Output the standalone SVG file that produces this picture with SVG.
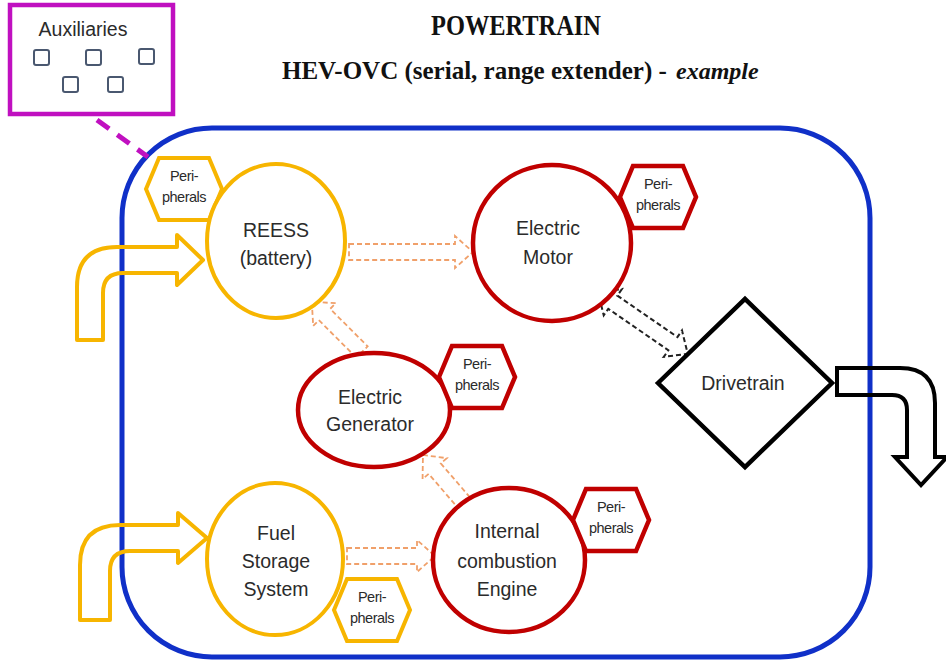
<svg xmlns="http://www.w3.org/2000/svg" xmlns:xlink="http://www.w3.org/1999/xlink" width="946" height="663" viewBox="0 0 946 663">
<style>
  .lbl { font-family: "Liberation Sans", Arial, sans-serif; font-size: 19.5px; fill: #2b2b2b; text-anchor: middle; }
  .per { font-family: "Liberation Sans", Arial, sans-serif; font-size: 14.5px; fill: #2b2b2b; text-anchor: middle; letter-spacing: -0.5px; }
  .ttl { font-family: "Liberation Serif", "Times New Roman", serif; font-weight: bold; fill: #111; }
  .yel { fill: #fff; stroke: #F7B500; stroke-width: 4; }
  .red { fill: #fff; stroke: #C00000; stroke-width: 4.5; }
  .hy { fill: #fff; stroke: #F7B500; stroke-width: 4; stroke-linejoin: miter; }
  .hr { fill: #fff; stroke: #C00000; stroke-width: 4.5; stroke-linejoin: miter; }
  .flow { fill: none; stroke: #F7B500; stroke-width: 4; stroke-linejoin: round; }
  .odash { fill: #fff; stroke: #F0A06A; stroke-width: 1.8; stroke-dasharray: 5 3; }
  .kdash { fill: #fff; stroke: #222; stroke-width: 2; stroke-dasharray: 5 3; }
  .sq { fill: #fff; stroke: #4a5870; stroke-width: 2; }
</style>
<defs>
  <polygon id="hex" points="-38,0 -25,-31 25,-31 38,0 25,31 -25,31"/>
</defs>
<rect width="946" height="663" fill="#fff"/>

<g id="title">
  <text class="ttl" x="431" y="35" font-size="30" textLength="170" lengthAdjust="spacingAndGlyphs">POWERTRAIN</text>
  <text class="ttl" x="282" y="79" font-size="25">HEV-OVC (serial, range extender) -</text>
  <text class="ttl" x="676" y="79" font-size="24" font-style="italic">example</text>
</g>

<g id="powertrain-frame">
  <rect x="122" y="128" width="748" height="529" rx="90" ry="90" fill="none" stroke="#1030C8" stroke-width="5"/>
</g>

<g id="auxiliaries">
  <rect x="10" y="5" width="163" height="109" fill="#fff" stroke="#C010C0" stroke-width="4.5"/>
  <text class="lbl" x="83" y="36" font-size="18">Auxiliaries</text>
  <rect class="sq" x="34" y="50" width="15" height="15" rx="2"/>
  <rect class="sq" x="86" y="50" width="15" height="15" rx="2"/>
  <rect class="sq" x="139" y="49" width="15" height="15" rx="2"/>
  <rect class="sq" x="63" y="77" width="15" height="15" rx="2"/>
  <rect class="sq" x="108" y="77" width="15" height="15" rx="2"/>
</g>

<g id="connectors">
  <line x1="97" y1="120" x2="148" y2="157" stroke="#C010C0" stroke-width="5" stroke-dasharray="15 10"/>
  <!-- energy inflows -->
  <path class="flow" d="M77,340 L77,287 Q77,247 117,247 L177,247 L177,235 L203,260 L177,285 L177,273 L123,273 Q103,273 103,293 L103,340 Z"/>
  <path class="flow" d="M80,620 L80,565 Q80,525 120,525 L178,525 L178,513 L207,538 L178,563 L178,551 L130,551 Q110,551 110,571 L110,620 Z"/>
  <!-- output -->
  <path d="M837,368 L900,368 Q935,368 935,403 L935,457 L947,457 L921,485 L895,457 L907,457 L907,410 Q907,395 892,395 L837,395 Z" fill="none" stroke="#000" stroke-width="4" stroke-linejoin="miter"/>
  <!-- REESS -> Motor -->
  <path class="odash" transform="translate(349,252)" d="M0,-8 L106,-8 L106,-16 L124,0 L106,16 L106,8 L0,8 Z"/>
  <!-- Generator -> REESS -->
  <path class="odash" transform="translate(362,352) rotate(-135)" d="M0,-8 L53,-8 L53,-16 L71,0 L53,16 L53,8 L0,8 Z"/>
  <!-- ICE -> Generator -->
  <path class="odash" transform="translate(466,505) rotate(-130.7)" d="M0,-8 L48,-8 L48,-16 L66,0 L48,16 L48,8 L0,8 Z"/>
  <!-- Fuel -> ICE -->
  <path class="odash" transform="translate(347,556)" d="M0,-8 L70,-8 L70,-16 L88,0 L70,16 L70,8 L0,8 Z"/>
  <!-- Motor <-> Drivetrain -->
  <path class="kdash" transform="translate(598,292) rotate(34.6)" d="M0,0 L18,-16 L18,-8 L91,-8 L91,-16 L109,0 L91,16 L91,8 L18,8 L18,16 Z"/>
</g>

<g id="reess">
  <use href="#hex" class="hy" x="184" y="189"/>
  <text class="per" x="184" y="181">Peri-</text>
  <text class="per" x="184" y="202">pherals</text>
  <ellipse class="yel" cx="276" cy="241" rx="69" ry="77"/>
  <text class="lbl" x="276" y="237">REESS</text>
  <text class="lbl" x="276" y="265">(battery)</text>
</g>

<g id="electric-motor">
  <ellipse class="red" cx="552" cy="243" rx="79" ry="78"/>
  <use href="#hex" class="hr" x="658" y="197"/>
  <text class="per" x="658" y="189">Peri-</text>
  <text class="per" x="658" y="210">pherals</text>
  <text class="lbl" x="548" y="235">Electric</text>
  <text class="lbl" x="548" y="264">Motor</text>
</g>

<g id="electric-generator">
  <ellipse class="red" cx="374" cy="410" rx="76" ry="57"/>
  <use href="#hex" class="hr" x="477" y="377"/>
  <text class="per" x="477" y="369">Peri-</text>
  <text class="per" x="477" y="390">pherals</text>
  <text class="lbl" x="370" y="404">Electric</text>
  <text class="lbl" x="370" y="431">Generator</text>
</g>

<g id="fuel-storage">
  <ellipse class="yel" cx="275" cy="559" rx="68" ry="76"/>
  <use href="#hex" class="hy" x="372" y="610"/>
  <text class="per" x="372" y="602">Peri-</text>
  <text class="per" x="372" y="623">pherals</text>
  <text class="lbl" x="276" y="540">Fuel</text>
  <text class="lbl" x="276" y="568">Storage</text>
  <text class="lbl" x="276" y="596">System</text>
</g>

<g id="ice">
  <ellipse class="red" cx="509" cy="560" rx="76" ry="72"/>
  <use href="#hex" class="hr" x="611" y="520"/>
  <text class="per" x="611" y="512">Peri-</text>
  <text class="per" x="611" y="533">pherals</text>
  <text class="lbl" x="507" y="538">Internal</text>
  <text class="lbl" x="507" y="568">combustion</text>
  <text class="lbl" x="507" y="596">Engine</text>
</g>

<g id="drivetrain">
  <polygon points="658,383 745,299 832,383 745,467" fill="#fff" stroke="#000" stroke-width="4.5"/>
  <text class="lbl" x="743" y="390">Drivetrain</text>
</g>
</svg>
